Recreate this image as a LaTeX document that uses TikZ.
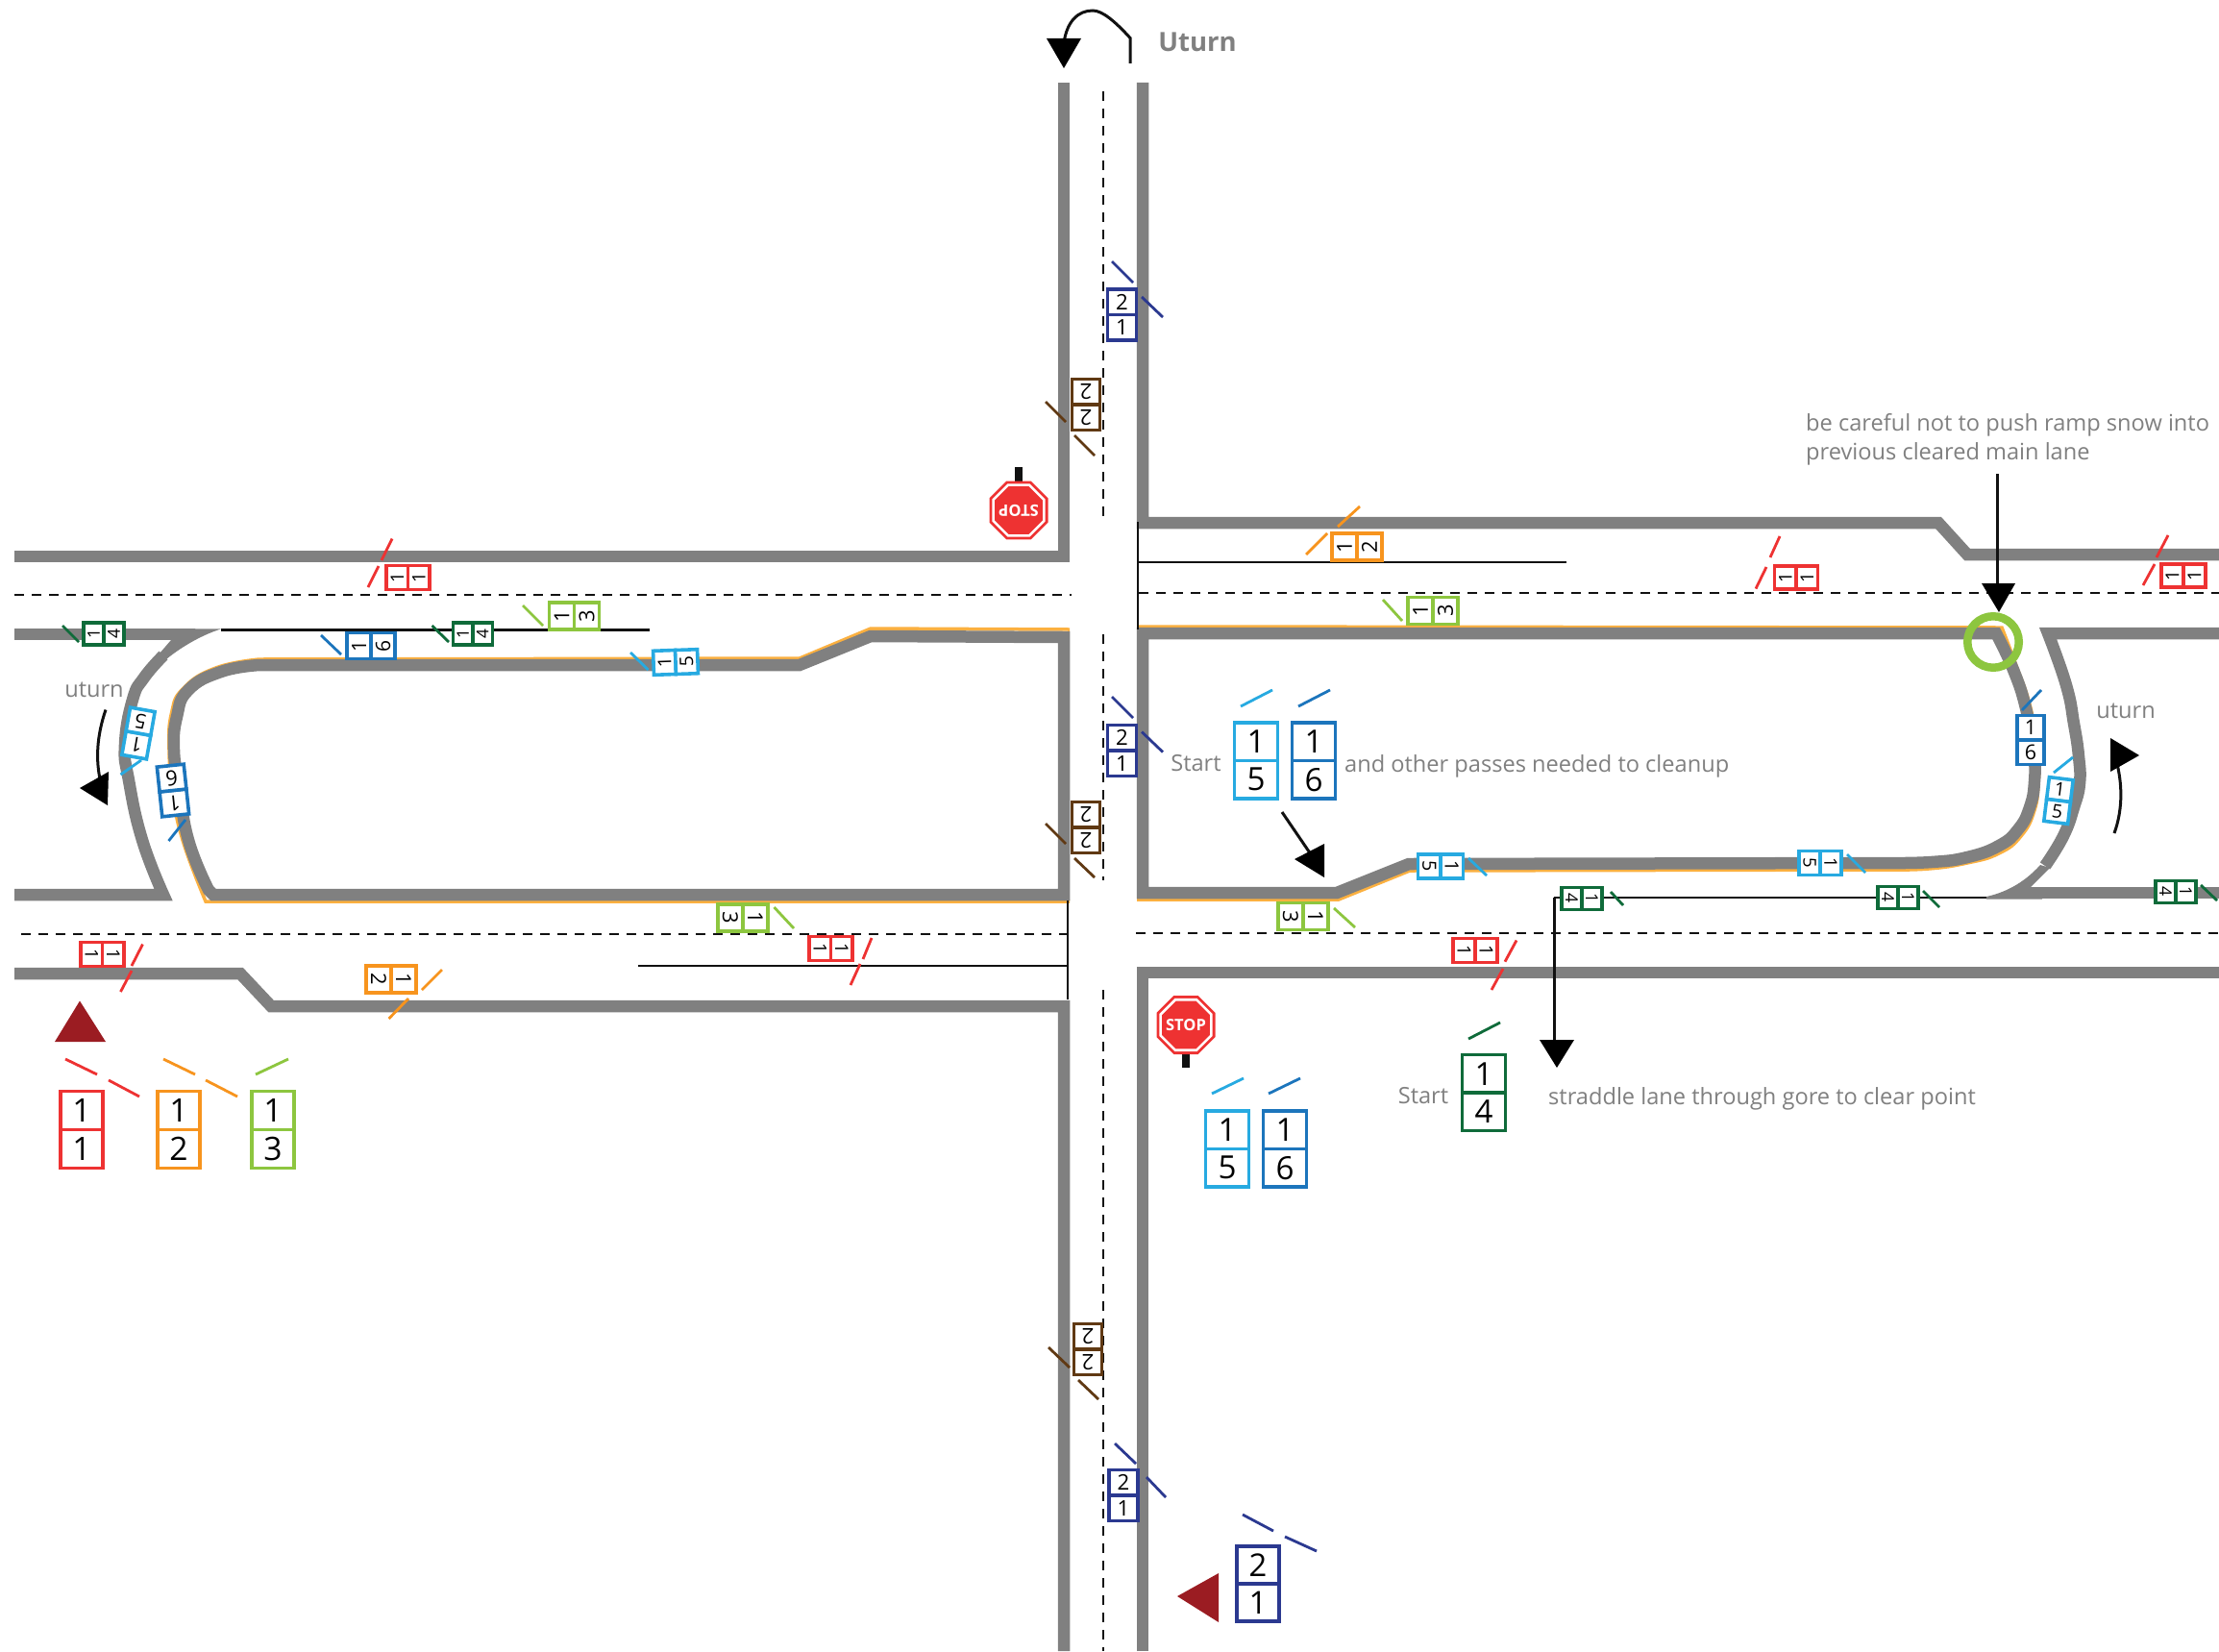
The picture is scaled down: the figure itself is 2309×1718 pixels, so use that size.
\documentclass[tikz,border=0pt]{standalone}
\usepackage{fontspec}
\setmainfont{Open Sans}
\usetikzlibrary{shapes.geometric}
\definecolor{rd}{HTML}{EE3232}
\definecolor{og}{HTML}{F7941E}
\definecolor{lm}{HTML}{8DC63F}
\definecolor{cy}{HTML}{27AAE1}
\definecolor{bl}{HTML}{1C75BC}
\definecolor{dg}{HTML}{0F6B3A}
\definecolor{nv}{HTML}{2B3990}
\definecolor{br}{HTML}{603913}
\definecolor{edge}{HTML}{FBB040}
\definecolor{rg}{HTML}{808080}
\definecolor{mr}{HTML}{9B1C22}
\definecolor{ink}{HTML}{111111}
\definecolor{note}{HTML}{808080}
\tikzset{
  road/.style={draw=rg,line width=12.5pt,miter limit=20,line join=miter},
  verge/.style={draw=edge,line width=3.5pt},
  thinblack/.style={draw=ink,line width=2.6pt},
  centre/.style={draw=ink,line width=1.9pt,dash pattern=on 10pt off 8pt},
  cell/.style={fill=white,line width=3.6pt,inner sep=0pt,outer sep=0pt,text=black},
  tick/.style={line width=2.8pt},
  lbl/.style={text=note,inner sep=0pt,font=\fontsize{23.6}{30}\selectfont},
  pointer/.style={draw=ink,line width=3pt},
  head/.style={fill=black},
  octa/.style={regular polygon,regular polygon sides=8,inner sep=0pt,outer sep=0pt},
  stoptext/.style={text=white,inner sep=0pt,font=\fontsize{16.5}{18}\selectfont\bfseries},
}
\newcommand{\signbox}[9]{%
  \begin{scope}[shift={(#2,#3)},rotate=#4,transform shape]
    \pgfmathsetmacro\fsz{0.42*#9}
    \node[cell,draw=#5,minimum width=#8pt,minimum height={#9pt/2},font=\fontsize{\fsz}{\fsz}\selectfont] (#1a) at (0,{-#9/4}) {#6};
    \node[cell,draw=#5,minimum width=#8pt,minimum height={#9pt/2},font=\fontsize{\fsz}{\fsz}\selectfont] (#1b) at (0,{#9/4}) {#7};
  \end{scope}}
\newcommand{\tk}[5]{\draw[tick,#1] (#2,#3) -- (#4,#5);}
\begin{document}
\begin{tikzpicture}[x=1pt,y=-1pt]
\useasboundingbox (0,0) rectangle (2309,1718);
\fill[white] (0,0) rectangle (2309,1718);
% verges
\draw[verge] (1113,655) -- (906,654) -- (832,685) -- (270,686) -- plot[smooth,tension=0.8] coordinates {(270,686)(224.5,695)(191,716)(178.5,742)(176,780)(180,825)(190,874)(214,938)} -- (1113,938);
\draw[verge] (1183,652) -- (2083,653) -- plot[smooth,tension=0.8] coordinates {(2083,653)(2097,690)(2113,737)(2121,787)(2121,813)(2117,843)(2103,870)(2080,888)(2047,898)(2007,904)(1967,905)} -- (1467,906) -- (1393,936) -- (1183,936);
% roads
\draw[road] (1107,86) -- (1107,579) -- (15,579);
\draw[road] (15,1013) -- (250,1013) -- (282,1047) -- (1107,1047) -- (1107,1718);
\draw[road] (1189,86) -- (1189,544) -- (2017,544) -- (2047,577) -- (2309,577);
\draw[road] (1189,1718) -- (1189,1012) -- (2309,1012);
\draw[road] (1107,663) -- (906,662) -- (832,692) -- (270,692) -- plot[smooth,tension=0.8] coordinates {(270,692)(230,699)(196,718)(184,746)(181,780)(186,815)(196,874)(217,926)} -- (222,931) -- (1107,931) -- cycle;
\draw[road] (1189,659) -- (2077,659) -- plot[smooth,tension=0.8] coordinates {(2077,659)(2095,697)(2108,737)(2116,783)(2117,813)(2112,840)(2100,863)(2080,880)(2047,892)(2010,897)(1967,898)} -- (1466,899) -- (1391,929) -- (1189,929) -- cycle;
\draw[road] (15,660) -- (185,660);
\draw[road] (15,931) -- (170,931) -- plot[smooth,tension=0.8] coordinates {(170,931)(148,874)(134,812)(130,775)(138,728)(150,705)(170,682)};
\fill[rg] (178,654) -- (230,654.5) .. controls (212,660) and (190,672) .. (173,686) -- (153,695) -- (178,666) -- cycle;
\draw[road] (2309,659) -- (2131,659) -- plot[smooth,tension=0.8] coordinates {(2131,659)(2150,713)(2158,753)(2163,787)(2164,815)(2158,840)(2147,870)(2128,901)};
\draw[road] (2309,929) -- (2113,929);
\fill[rg] (2067,935.5) -- (2067,933) .. controls (2085,929) and (2105,920) .. (2123,900) -- (2133,903) -- (2113,923) -- (2125,935.5) -- cycle;
% centre lines
\draw[centre] (15,619) -- (1115,619);
\draw[centre] (1185,617) -- (2309,617);
\draw[centre] (22,972) -- (1110,972);
\draw[centre] (1182,971) -- (2309,971);
\draw[centre] (1148,95) -- (1148,544);
\draw[centre] (1148,660) -- (1148,916);
\draw[centre] (1148,1030) -- (1148,1718);
% thin black stop/lane lines
\draw[thinblack] (1184,543) -- (1184,655);
\draw[thinblack] (1184,585) -- (1630,585);
\draw[thinblack] (230,655.5) -- (676,655.5);
\draw[thinblack] (1111,937) -- (1111,1040);
\draw[thinblack] (664,1005) -- (1111,1005);
\draw[thinblack] (1617,934) -- (2067,934);
% top uturn arrow
\coordinate (ua) at (1176,66);
\coordinate (ub) at (1107,45);
\draw[pointer] (ua) -- (1176,39.5) .. controls (1160,22) and (1147,11) .. (1137,11) .. controls (1122,11) and (1110,22) .. (ub);
\fill[head] (1089,40) -- (1125,40) -- (1107,71) -- cycle;
\node[lbl,text=note,font=\fontsize{27.5}{30}\selectfont\bfseries] (uturntop) at (1246,44) {Uturn};
% uturn labels and arrows
\node[lbl] (uturnl) at (98,718) {uturn};
\node[lbl] (uturnr) at (2212,740) {uturn};
\coordinate (la) at (110,738.5);
\coordinate (lb) at (105,815);
\draw[pointer] (la) .. controls (101,765) and (99,790) .. (lb);
\fill[head] (83,820) -- (113,803) -- (112,838) -- cycle;
\coordinate (ra) at (2200,867);
\coordinate (rb) at (2203,795);
\draw[pointer] (ra) .. controls (2208,845) and (2209,820) .. (rb);
\fill[head] (2196,768) -- (2226,786) -- (2196,803) -- cycle;
% signs: upper left
\signbox{sa}{424.5}{601}{90}{rd}{1}{1}{25}{45}
\tk{rd}{383}{611}{394}{589} \tk{rd}{397}{583}{408}{560.6}
\signbox{sb}{108}{659.5}{90}{dg}{1}{4}{23}{42}
\tk{dg}{65}{651}{82}{668}
\signbox{sc}{386}{672}{90}{bl}{1}{6}{27}{50}
\tk{bl}{334}{661}{355}{681}
\signbox{sd}{492}{659.5}{90}{dg}{1}{4}{23}{41}
\tk{dg}{449.5}{651}{467}{668}
\signbox{se}{597.5}{641}{90}{lm}{1}{3}{28}{52}
\tk{lm}{544}{630}{565}{651}
\signbox{sf}{703}{689}{92}{cy}{1}{5}{25}{46}
\tk{cy}{656}{679}{674.5}{697}
% left uturn signs
\signbox{sg}{144}{763}{170}{cy}{1}{5}{26}{50}
\tk{cy}{125.5}{806}{147}{791}
\signbox{sh}{180}{822.5}{186}{bl}{1}{6}{28}{52}
\tk{bl}{175.5}{875}{193}{853}
% lower left
\signbox{si}{106.6}{993}{-90}{rd}{1}{1}{25}{45}
\tk{rd}{125.5}{1032}{137}{1010} \tk{rd}{137}{1005}{148.5}{982.5}
\signbox{sj}{407}{1019}{-90}{og}{1}{2}{28}{52}
\tk{og}{404.6}{1060}{425}{1039} \tk{og}{439}{1030}{460}{1009}
\signbox{sk}{773}{955}{-90}{lm}{1}{3}{28}{52}
\tk{lm}{805.5}{944}{826}{966}
\signbox{sl}{864.5}{987}{-90}{rd}{1}{1}{25}{45}
\tk{rd}{885}{1025}{895}{1003} \tk{rd}{898}{998}{907}{976}
% vertical road signs
\signbox{sm}{1167.5}{327.5}{0}{nv}{2}{1}{30}{53}
\tk{nv}{1157}{272}{1179}{294} \tk{nv}{1188}{309}{1210}{330}
\signbox{sn}{1130}{421}{180}{br}{2}{2}{29}{53}
\tk{br}{1088}{418}{1109}{439} \tk{br}{1118}{453}{1139}{474}
\signbox{so}{1167.5}{781}{0}{nv}{2}{1}{30}{53}
\tk{nv}{1157}{725}{1179}{747} \tk{nv}{1188}{761.5}{1210}{782.6}
\signbox{sp}{1130}{861}{180}{br}{2}{2}{29}{53}
\tk{br}{1088}{857}{1109}{878} \tk{br}{1118}{893}{1139}{913}
\signbox{sq}{1132}{1404}{180}{br}{2}{2}{29}{53}
\tk{br}{1091}{1402}{1113}{1423} \tk{br}{1122}{1436}{1143}{1456}
\signbox{sr}{1169}{1556}{0}{nv}{2}{1}{30}{53}
\tk{nv}{1160}{1502}{1182}{1523} \tk{nv}{1193}{1537}{1213}{1558}
% upper right
\signbox{ss}{1412}{569}{90}{og}{1}{2}{28}{52}
\tk{og}{1359}{577}{1381}{555} \tk{og}{1392}{548}{1415}{527}
\signbox{st}{1491}{635.5}{90}{lm}{1}{3}{28}{52}
\tk{lm}{1439}{624}{1459}{646}
\signbox{su}{1869}{601}{90}{rd}{1}{1}{24}{45}
\tk{rd}{1827}{612.6}{1838}{590} \tk{rd}{1842}{580}{1852}{558}
\signbox{sv}{2272}{599}{90}{rd}{1}{1}{24}{46}
\tk{rd}{2230}{609}{2242}{587} \tk{rd}{2244}{580}{2256}{557}
% right uturn signs
\signbox{sw}{2113}{770}{0}{bl}{1}{6}{28}{51}
\tk{bl}{2104}{739}{2124}{718}
\signbox{sx}{2142}{833}{-7}{cy}{1}{5}{25}{46}
\tk{cy}{2137}{804}{2157}{788}
% right lower
\signbox{sy}{1894}{898}{-90}{cy}{1}{5}{25}{44}
\tk{cy}{1922}{889}{1941}{908}
\signbox{sz}{1499}{901.6}{-90}{cy}{1}{5}{25}{47}
\tk{cy}{1528}{893}{1547}{911}
\signbox{ta}{1356}{953.6}{-90}{lm}{1}{3}{28}{52}
\tk{lm}{1388}{945}{1410}{965}
\signbox{tb}{1535}{989}{-90}{rd}{1}{1}{25}{46}
\tk{rd}{1566}{1000.7}{1578}{978.5} \tk{rd}{1552}{1030}{1564}{1008}
\signbox{tc}{1646}{935}{-90}{dg}{1}{4}{23}{42}
\tk{dg}{1676}{928}{1689}{942}
\signbox{td}{1975}{934}{-90}{dg}{1}{4}{23}{42}
\tk{dg}{2001}{927}{2018}{944}
\signbox{te}{2264}{928}{-90}{dg}{1}{4}{23}{42}
\tk{dg}{2290}{921}{2307}{937}
% large legend signs
\signbox{ka}{85}{1175.5}{0}{rd}{1}{1}{44}{80}
\tk{rd}{68}{1102}{101}{1118} \tk{rd}{113}{1124}{145}{1141}
\signbox{kb}{186}{1175.5}{0}{og}{1}{2}{44}{80}
\tk{og}{170}{1102}{203}{1118} \tk{og}{214}{1124}{247}{1141}
\signbox{kc}{284}{1175.5}{0}{lm}{1}{3}{44}{80}
\tk{lm}{266}{1118}{300}{1102}
\signbox{kd}{1307}{791.5}{0}{cy}{1}{5}{45}{79}
\tk{cy}{1291}{735}{1324}{718}
\signbox{ke}{1367}{791.5}{0}{bl}{1}{6}{45}{79}
\tk{bl}{1351}{735}{1384}{718}
\signbox{kf}{1277}{1195.5}{0}{cy}{1}{5}{45}{79}
\tk{cy}{1261}{1138}{1294}{1122}
\signbox{kg}{1337}{1195.5}{0}{bl}{1}{6}{45}{79}
\tk{bl}{1320}{1138}{1353}{1122}
\signbox{kh}{1544}{1137}{0}{dg}{1}{4}{45}{79}
\tk{dg}{1528}{1081}{1561}{1064}
\signbox{ki}{1309}{1648}{0}{nv}{2}{1}{44}{78}
\tk{nv}{1293}{1576}{1325}{1593} \tk{nv}{1337}{1599}{1370}{1614}
% direction triangles
\fill[mr] (83,1041.5) -- (57,1084) -- (110,1084) -- cycle;
\fill[mr] (1225,1661) -- (1268,1637) -- (1268,1688) -- cycle;
% stop signs
\fill[ink] (1230,1095) rectangle (1238,1110.5);
\node[octa,fill=rd,minimum size=66pt] (stopa) at (1234,1066.5) {};
\node[octa,fill=white,minimum size=60pt] (stopb) at (1234,1066.5) {};
\node[octa,fill=rd,minimum size=54pt] (stopc) at (1234,1066.5) {};
\node[stoptext] (stopw) at (1234,1066.5) {STOP};
\fill[ink] (1056,486) rectangle (1064,502);
\begin{scope}[shift={(1060,531)},rotate=180,transform shape]
\node[octa,fill=rd,minimum size=66pt] (stopd) at (0,0) {};
\node[octa,fill=white,minimum size=60pt] (stope) at (0,0) {};
\node[octa,fill=rd,minimum size=54pt] (stopf) at (0,0) {};
\node[stoptext] (stopx) at (0,0) {STOP};
\end{scope}
% pointers
\node[circle,draw=lm,line width=8.5pt,minimum size=53.5pt,inner sep=0pt,outer sep=0pt] (gore) at (2074,668) {};
\coordinate (pa) at (2078,493);
\coordinate (pb) at (2078,610);
\draw[pointer] (pa) -- (pb);
\fill[head] (2062,607) -- (2097,607) -- (2080,637) -- cycle;
\coordinate (qa) at (1334,845);
\coordinate (qb) at (1364,889);
\draw[pointer] (qa) -- (qb);
\fill[head] (1378,878) -- (1347,894) -- (1378,913) -- cycle;
\coordinate (va) at (1617,934);
\coordinate (vb) at (1617,1085);
\draw[pointer] (va) -- (vb);
\fill[head] (1602,1082) -- (1638,1082) -- (1620,1111) -- cycle;
% labels
\node[lbl] (t1) at (1244.5,794) {Start};
\node[lbl,anchor=west] (t2) at (1399,797) {and other passes needed to cleanup};
\node[lbl] (t3) at (1481,1140) {Start};
\node[lbl,anchor=west] (t4) at (1611,1143) {straddle lane through gore to clear point};
\node[lbl,anchor=west,align=left] (t5) at (1879,457) {be careful not to push ramp snow into\\previous cleared main lane};
\end{tikzpicture}
\end{document}
